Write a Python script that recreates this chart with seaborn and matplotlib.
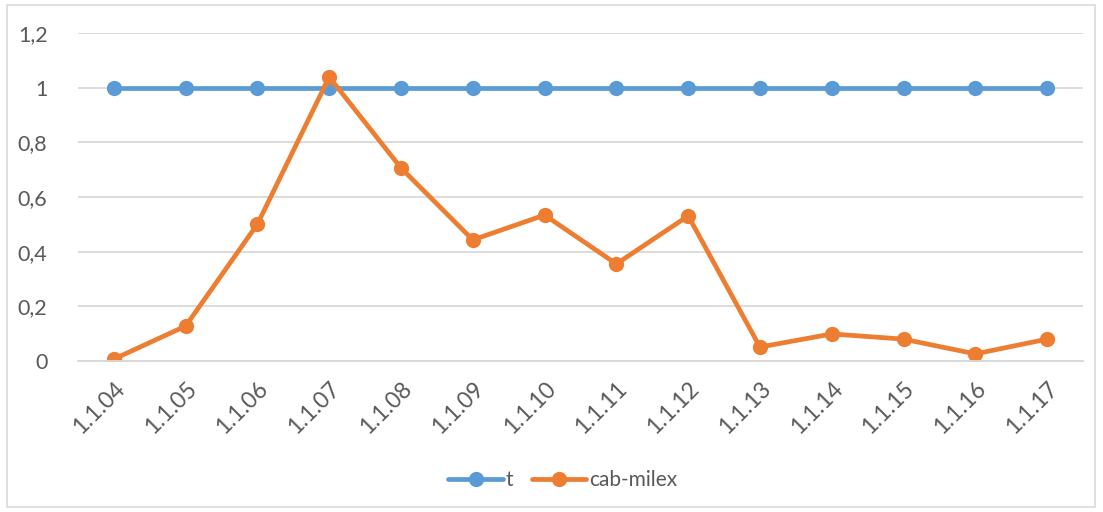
import matplotlib
matplotlib.use("Agg")
import matplotlib.pyplot as plt
import seaborn as sns
import pandas as pd
import numpy as np
from matplotlib.patches import Rectangle
from matplotlib.lines import Line2D

categories = ["1.1.04", "1.1.05", "1.1.06", "1.1.07", "1.1.08", "1.1.09", "1.1.10",
              "1.1.11", "1.1.12", "1.1.13", "1.1.14", "1.1.15", "1.1.16", "1.1.17"]
t_values = [1, 1, 1, 1, 1, 1, 1, 1, 1, 1, 1, 1, 1, 1]
cab_milex = [0.007, 0.128, 0.501, 1.039, 0.706, 0.443, 0.534, 0.355, 0.531,
             0.051, 0.099, 0.080, 0.026, 0.080]
y_ticks = [0, 0.2, 0.4, 0.6, 0.8, 1, 1.2]
y_tick_labels = ["0", "0,2", "0,4", "0,6", "0,8", "1", "1,2"]
series_names = ["t", "cab-milex"]

sns.set_style("white")
plt.rcParams["font.family"] = ["Lato", "DejaVu Sans"]

df = pd.DataFrame({
    "x": list(range(len(categories))) * 2,
    "value": t_values + cab_milex,
    "series": [series_names[0]] * len(categories) + [series_names[1]] * len(categories),
})

fig = plt.figure(figsize=(11.03, 5.12), dpi=100)
ax = fig.add_axes([78 / 1103, 1 - 361 / 512, (1083 - 78) / 1103, (361 - 33) / 512])

palette = {"t": "#5B9BD5", "cab-milex": "#ED7D31"}
sns.lineplot(data=df, x="x", y="value", hue="series", palette=palette, ax=ax,
             marker="o", markersize=11, markeredgewidth=0, linewidth=3.4,
             legend=False)

ax.set_xlim(-0.5, len(categories) - 0.5)
ax.set_ylim(0, 1.2)
ax.set_yticks(y_ticks)
ax.set_yticklabels(y_tick_labels)
ax.set_xticks(range(len(categories)))
ax.set_xticklabels(categories, rotation=45, ha="right", rotation_mode="anchor")
ax.set_xticks(np.arange(-0.5, len(categories), 1), minor=True)
ax.tick_params(axis="x", which="major", length=0, pad=12, labelsize=16.5, colors="#595959")
ax.tick_params(axis="x", which="minor", length=6, width=1.2, color="#D9D9D9", direction="out")
ax.tick_params(axis="y", length=0, pad=22, labelsize=15.5, colors="#595959")
ax.set_xlabel("")
ax.set_ylabel("")
ax.grid(axis="y", color="#D9D9D9", linewidth=1.3)
ax.set_axisbelow(True)
for s in ["top", "right", "left"]:
    ax.spines[s].set_visible(False)
ax.spines["bottom"].set_color("#D9D9D9")
ax.spines["bottom"].set_linewidth(1.3)

handles = [Line2D([], [], color=palette[n], linewidth=3.4, marker="o", markersize=11,
                  markeredgewidth=0) for n in series_names]
fig.legend(handles, series_names, loc="center", bbox_to_anchor=(563 / 1103, 1 - 480 / 512),
           ncol=2, frameon=False, fontsize=15, handlelength=2.6, columnspacing=0.9,
           handletextpad=0.15, labelcolor="#595959")

fig.patches.append(Rectangle((7 / 1103, 1 - 507 / 512), 1088 / 1103, 502 / 512,
                             transform=fig.transFigure, fill=False,
                             edgecolor="#D9D9D9", linewidth=1.2))

fig.savefig("out.png", dpi=100)
